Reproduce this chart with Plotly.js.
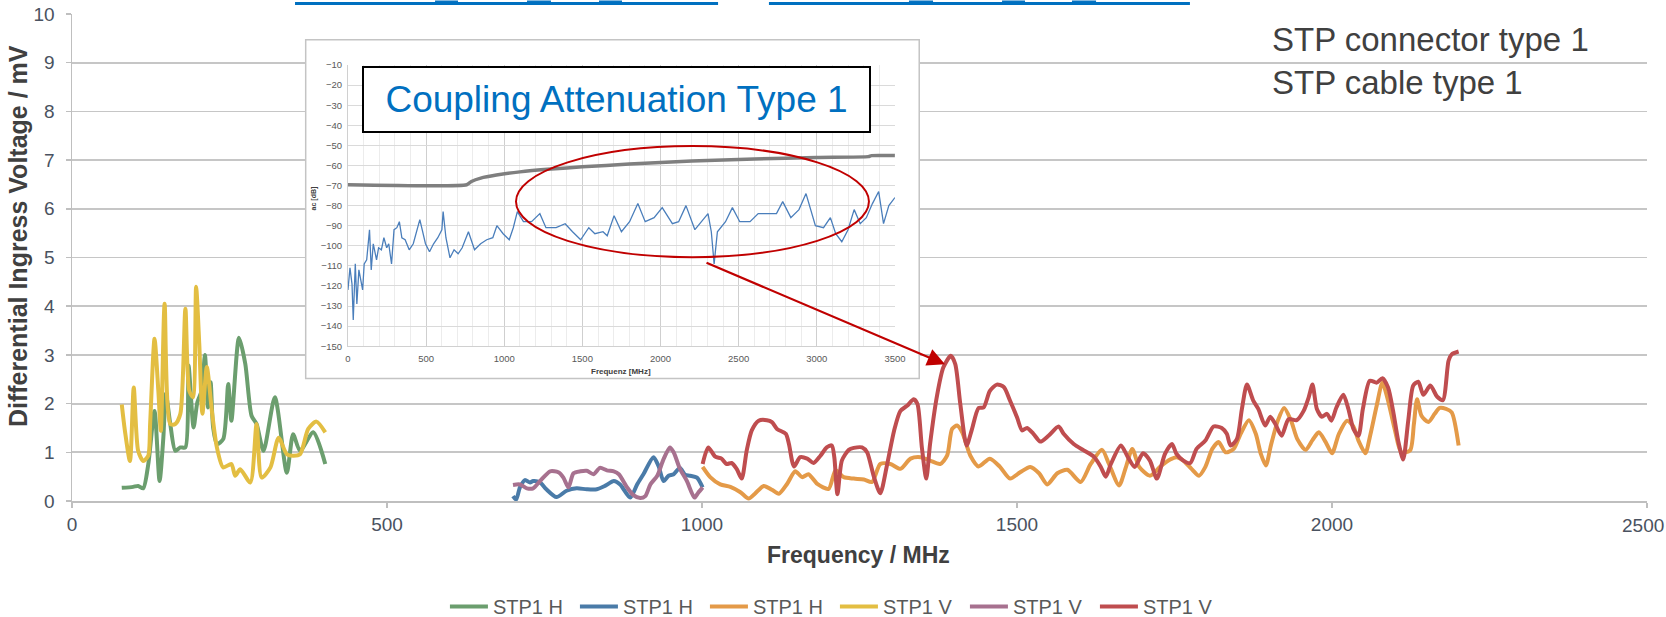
<!DOCTYPE html>
<html>
<head>
<meta charset="utf-8">
<script src="https://cdn.plot.ly/plotly-3.0.1.min.js"></script>
<style>html,body{margin:0;padding:0;background:#fff;}#chart{width:1666px;height:617px;}</style>
</head>
<body>
<div id="chart"></div>
<script>
// ---- main chart data (Frequency MHz / Differential Ingress Voltage mV) ----
const seriesNames = ['STP1 H', 'STP1 H', 'STP1 H', 'STP1 V', 'STP1 V', 'STP1 V'];

const hGreenMHz = [79,97,105,113,121,131,139,145,149,156,164,172,180,185,193,199,206,211,216,220,224,230,240,248,253,265,275,285,293,304,322,341,351,362,383,402];
const hGreenMV  = [0.27,0.29,0.31,0.26,0.75,1.85,0.41,1.3,2.2,1.58,1.03,1.1,1.1,2.78,1.51,2.03,2.27,3.0,1.92,2.44,1.51,1.17,1.27,2.4,1.65,3.35,2.82,1.75,1.58,1.03,2.13,0.58,1.37,1.03,1.41,0.76];

const hBlueMHz = [700,705,711,719,727,732,743,753,769,785,801,817,833,846,860,870,886,897,907,923,931,939,947,955,965,973,981,992,1001];
const hBlueMV  = [0.1,0.03,0.28,0.43,0.38,0.41,0.38,0.24,0.08,0.21,0.26,0.24,0.24,0.31,0.41,0.34,0.07,0.34,0.55,0.9,0.72,0.41,0.52,0.55,0.68,0.54,0.52,0.48,0.28];

const hOrangeMHz = [1001,1013,1029,1045,1061,1074,1084,1098,1111,1122,1135,1148,1159,1169,1183,1201,1212,1225,1241,1257,1270,1283,1299,1315,1331,1347,1362,1378,1389,1397,1405,1413,1426,1439,1457,1473,1489,1505,1521,1535,1548,1564,1580,1601,1617,1635,1646,1662,1673,1683,1694,1711,1727,1743,1753,1764,1777,1789,1799,1810,1820,1831,1844,1855,1868,1879,1887,1895,1903,1914,1924,1935,1945,1958,1969,1979,1990,2000,2011,2024,2034,2042,2053,2060,2071,2080,2089,2100,2110,2124,2130,2135,2142,2153,2163,2171,2181,2190,2201];
const hOrangeMV  = [0.7,0.49,0.34,0.29,0.18,0.05,0.15,0.31,0.23,0.15,0.35,0.61,0.49,0.55,0.35,0.25,0.63,0.49,0.46,0.44,0.39,0.76,0.76,0.66,0.87,0.9,0.83,0.76,0.93,1.48,1.55,1.41,0.93,0.71,0.87,0.7,0.46,0.59,0.7,0.57,0.34,0.57,0.64,0.39,0.76,1.05,0.76,0.32,0.7,1.07,0.7,0.52,0.7,0.85,0.9,0.83,0.66,0.52,0.7,1.07,1.21,1.0,1.07,1.38,1.66,1.38,0.97,0.73,1.14,1.65,1.91,1.65,1.27,1.05,1.25,1.41,1.21,0.98,1.38,1.65,1.53,1.24,0.98,1.31,1.96,2.43,2.06,1.45,1.0,1.04,1.58,2.09,1.75,1.62,1.79,1.91,1.89,1.82,1.14];

const vYellowMHz = [79,84,92,98,105,113,121,124,131,137,141,147,156,164,172,180,186,192,197,202,207,214,222,230,240,253,259,267,283,293,301,315,328,341,351,362,375,388,402];
const vYellowMV  = [1.98,1.44,0.82,2.33,1.03,0.82,0.93,1.58,3.33,2.27,1.44,4.05,1.58,1.58,1.79,3.95,2.27,2.13,4.4,3.23,1.79,2.75,1.85,1.1,0.69,0.76,0.52,0.65,0.38,1.58,0.48,0.69,1.3,0.96,0.93,0.96,1.48,1.63,1.41];

const vMauveMHz = [700,711,722,732,743,759,772,780,788,796,807,817,828,838,849,860,868,881,891,902,910,918,929,939,949,955,965,976,988,994,1001];
const vMauveMV  = [0.33,0.34,0.26,0.26,0.41,0.61,0.59,0.48,0.28,0.57,0.61,0.62,0.55,0.68,0.63,0.61,0.55,0.28,0.12,0.06,0.1,0.34,0.52,0.86,1.1,1.0,0.66,0.41,0.07,0.17,0.28];

const vRedMHz = [1001,1010,1021,1031,1039,1047,1055,1063,1071,1079,1090,1103,1111,1119,1133,1138,1146,1156,1167,1177,1188,1198,1206,1210,1215,1222,1233,1241,1254,1262,1273,1283,1294,1305,1315,1326,1336,1342,1349,1356,1362,1373,1383,1395,1402,1410,1420,1428,1439,1447,1457,1468,1479,1489,1500,1508,1516,1526,1537,1550,1566,1574,1590,1606,1622,1633,1641,1649,1665,1676,1687,1700,1711,1722,1735,1746,1753,1764,1775,1785,1799,1812,1825,1833,1839,1849,1857,1865,1875,1883,1894,1902,1910,1920,1931,1944,1955,1963,1969,1976,1984,1992,1999,2007,2018,2026,2034,2042,2049,2060,2071,2080,2089,2097,2105,2113,2121,2129,2137,2145,2156,2167,2176,2185,2190,2201];
const vRedMV  = [0.76,1.1,0.91,0.87,0.76,0.78,0.66,0.46,1.04,1.45,1.65,1.66,1.62,1.48,1.38,1.17,0.71,0.9,0.87,0.78,0.93,1.1,1.14,0.9,0.14,0.83,1.05,1.09,1.1,1.0,0.49,0.16,0.76,1.45,1.85,1.96,2.09,1.99,1.1,0.46,1.17,2.16,2.74,2.98,2.81,1.99,1.14,1.45,1.91,1.92,2.26,2.39,2.34,2.06,1.72,1.45,1.5,1.38,1.22,1.34,1.53,1.38,1.17,1.04,0.91,0.7,0.5,0.76,1.14,0.9,0.7,0.98,0.83,0.46,0.97,1.17,0.97,0.83,0.78,1.07,1.24,1.53,1.5,1.38,1.14,1.27,1.89,2.39,2.06,1.89,1.55,1.73,1.58,1.34,1.68,1.66,1.85,2.13,2.39,1.89,1.73,1.79,1.65,1.92,2.18,1.89,1.48,1.34,1.89,2.47,2.43,2.52,2.33,1.85,1.24,0.85,1.65,2.37,2.45,2.18,2.37,2.14,2.07,2.88,3.01,3.07];

// ---- inset data: Coupling Attenuation Type 1 (ac dB vs Frequenz MHz) ----
const insetFreqMHz = [0,13,26,34,47,57,70,84,94,104,120,138,149,162,183,196,214,230,248,261,279,295,313,329,345,366,392,418,444,460,475,496,522,548,575,601,609,627,653,679,705,731,771,810,849,888,927,953,993,1032,1058,1084,1123,1175,1228,1267,1332,1390,1437,1489,1541,1580,1632,1659,1703,1750,1802,1855,1902,1959,2011,2076,2116,2163,2220,2259,2304,2325,2343,2364,2416,2460,2507,2573,2625,2703,2742,2782,2834,2886,2931,2991,3043,3087,3121,3160,3200,3239,3278,3317,3356,3396,3427,3461,3500];
const insetCouplingDb = [-122,-111,-119,-137,-109,-129,-112,-119,-122,-109,-107,-92,-112,-99,-107,-101,-102,-96,-101,-99,-109,-92,-91,-88,-96,-97,-102,-99,-92,-87,-92,-99,-103,-99,-96,-92,-83,-96,-106,-102,-104,-101,-93,-102,-99,-97,-96,-90,-94,-97,-91,-83,-88,-88,-84,-91,-91,-89,-93,-97,-91,-94,-93,-95,-85,-93,-88,-79,-88,-86,-81,-89,-88,-80,-92,-88,-84,-93,-109,-93,-88,-81,-88,-88,-84,-84,-84,-78,-86,-82,-74,-90,-91,-86,-94,-98,-92,-82,-89,-86,-79,-73,-89,-80,-76];
const limitFreqMHz = [0,760,790,850,950,1100,1300,1500,1800,2200,2600,3000,3330,3350,3500];
const limitDb = [-69.6,-69.6,-68,-66.3,-64.8,-63.2,-61.8,-60.7,-59.3,-57.8,-56.8,-56,-55.6,-55.1,-55.1];

// ---- tick labels ----
const xTickLabels = ['0','500','1000','1500','2000','2500'];
const xTickValues = [0,500,1000,1500,2000,2500];
const insetXTicks = [0,500,1000,1500,2000,2500,3000,3500];

const colors = ['#6B9E6E', '#4A7BA8', '#E49A48', '#E3BE42', '#A7718F', '#BF4D4F'];
const seriesX = [hGreenMHz, hBlueMHz, hOrangeMHz, vYellowMHz, vMauveMHz, vRedMHz];
const seriesY = [hGreenMV, hBlueMV, hOrangeMV, vYellowMV, vMauveMV, vRedMV];

const traces = [];
for (let i = 0; i < 6; i++) {
  traces.push({
    type: 'scatter', mode: 'lines', name: seriesNames[i],
    x: seriesX[i], y: seriesY[i], xaxis: 'x', yaxis: 'y',
    line: {color: colors[i], width: 4, shape: 'spline', smoothing: 0.7},
    hoverinfo: 'x+y'
  });
}
// empty trace to establish the inset frame subplot
traces.push({type: 'scatter', x: [], y: [], xaxis: 'x2', yaxis: 'y2', showlegend: false, hoverinfo: 'skip'});
traces.push({
  type: 'scatter', mode: 'lines', x: limitFreqMHz, y: limitDb, xaxis: 'x3', yaxis: 'y3',
  showlegend: false, line: {color: '#7F7F7F', width: 3.5, shape: 'spline', smoothing: 0.5}, hoverinfo: 'skip'
});
traces.push({
  type: 'scatter', mode: 'lines', x: insetFreqMHz, y: insetCouplingDb, xaxis: 'x3', yaxis: 'y3',
  showlegend: false, line: {color: '#4A7EBB', width: 1.3}, hoverinfo: 'skip'
});

const FONT = 'Liberation Sans, Arial, sans-serif';
const lastIdx = xTickLabels.length - 1;
// the last label sits at the right edge of the page; it is drawn as a right-aligned text so it stays whole
const xTickTextShown = xTickLabels.map((t, i) => (i === lastIdx ? '' : t));

const layout = {
  width: 1666, height: 617,
  margin: {l: 72, r: 19, t: 14, b: 116, autoexpand: false},
  paper_bgcolor: '#ffffff', plot_bgcolor: 'rgba(0,0,0,0)',
  font: {family: FONT, color: '#595959'},
  showlegend: true,
  legend: {
    orientation: 'h', x: 0.4844, xanchor: 'center', y: -0.2164, yanchor: 'middle',
    font: {family: FONT, size: 20, color: '#595959'},
    itemwidth: 38, entrywidthmode: 'pixels', entrywidth: 77,
    bgcolor: 'rgba(0,0,0,0)'
  },
  xaxis: {
    domain: [0, 1], anchor: 'y', range: [0, 2500], tickvals: xTickValues, ticktext: xTickTextShown,
    showgrid: false, zeroline: false, showline: true, linecolor: '#BFBFBF', linewidth: 2,
    ticks: 'outside', ticklen: 5, tickcolor: '#BFBFBF', tickwidth: 1.5,
    tickfont: {family: FONT, size: 19, color: '#4A5260'}, ticklabelstandoff: 0, fixedrange: true
  },
  yaxis: {
    domain: [0, 1], anchor: 'x', range: [0, 10], dtick: 1, tick0: 0,
    showgrid: true, gridcolor: '#C6C6C6', gridwidth: 1.8, zeroline: false,
    showline: true, linecolor: '#BFBFBF', linewidth: 1.5,
    ticks: 'outside', ticklen: 5, tickcolor: '#BFBFBF', tickwidth: 1.5,
    tickfont: {family: FONT, size: 19, color: '#4A5260'}, ticklabelstandoff: 7, fixedrange: true
  },
  xaxis2: {domain: [0.1479, 0.5384], anchor: 'y2', range: [0, 1], visible: false, fixedrange: true},
  yaxis2: {domain: [0.2500, 0.9486], anchor: 'x2', range: [0, 1], visible: false, fixedrange: true},
  xaxis3: {
    domain: [0.1752, 0.5225], anchor: 'y3', range: [0, 3500], tickvals: insetXTicks,
    showgrid: true, gridcolor: '#CFCFCF', gridwidth: 1, zeroline: false,
    minor: {dtick: 100, tick0: 0, showgrid: true, gridcolor: '#ECECEC', gridwidth: 1},
    showline: true, linecolor: '#D0D0D0', linewidth: 1, ticks: '',
    tickfont: {family: FONT, size: 9.5, color: '#595959'}, ticklabelstandoff: 3, fixedrange: true
  },
  yaxis3: {
    domain: [0.3179, 0.8952], anchor: 'x3', range: [-150, -10], dtick: 10, tick0: -150,
    showgrid: true, gridcolor: '#DADADA', gridwidth: 1, zeroline: false,
    showline: true, linecolor: '#D0D0D0', linewidth: 1, ticks: '',
    tickfont: {family: FONT, size: 9.5, color: '#595959'}, ticklabelstandoff: 3, fixedrange: true
  },
  shapes: [
    {type: 'rect', xref: 'x2', yref: 'y2', x0: 0, x1: 1, y0: 0, y1: 1, layer: 'below',
     fillcolor: '#ffffff', line: {color: '#C4C4C4', width: 3}},
    {type: 'circle', xref: 'paper', yref: 'paper', x0: 0.2819, x1: 0.5060, y0: 0.5007, y1: 0.7288,
     layer: 'above', line: {color: '#C00000', width: 2}},
    {type: 'rect', xref: 'paper', yref: 'paper', x0: 0.1416, x1: 0.4102, y0: 1.0185, y1: 1.0247, line: {width: 0}, fillcolor: '#0070C0'},
    {type: 'rect', xref: 'paper', yref: 'paper', x0: 0.4425, x1: 0.7098, y0: 1.0185, y1: 1.0247, line: {width: 0}, fillcolor: '#0070C0'},
    {type: 'rect', xref: 'paper', yref: 'paper', x0: 0.2305, x1: 0.2451, y0: 1.0247, y1: 1.0277, line: {width: 0}, fillcolor: '#0070C0'},
    {type: 'rect', xref: 'paper', yref: 'paper', x0: 0.2889, x1: 0.3041, y0: 1.0247, y1: 1.0277, line: {width: 0}, fillcolor: '#0070C0'},
    {type: 'rect', xref: 'paper', yref: 'paper', x0: 0.3346, x1: 0.3492, y0: 1.0247, y1: 1.0277, line: {width: 0}, fillcolor: '#0070C0'},
    {type: 'rect', xref: 'paper', yref: 'paper', x0: 0.5314, x1: 0.5467, y0: 1.0247, y1: 1.0277, line: {width: 0}, fillcolor: '#0070C0'},
    {type: 'rect', xref: 'paper', yref: 'paper', x0: 0.5905, x1: 0.6051, y0: 1.0247, y1: 1.0277, line: {width: 0}, fillcolor: '#0070C0'},
    {type: 'rect', xref: 'paper', yref: 'paper', x0: 0.6349, x1: 0.6502, y0: 1.0247, y1: 1.0277, line: {width: 0}, fillcolor: '#0070C0'}
  ],
  annotations: [
    {text: xTickLabels[lastIdx], xref: 'paper', yref: 'paper', x: 1.0118, y: -0.0503,
     xanchor: 'right', yanchor: 'middle', showarrow: false,
     font: {family: FONT, size: 19, color: '#4A5260'}},
    {text: '<b>Differential Ingress Voltage / mV</b>', xref: 'paper', yref: 'paper', x: -0.0343, y: 0.5439,
     xanchor: 'center', yanchor: 'middle', textangle: -90, showarrow: false,
     font: {family: FONT, size: 25, color: '#404040'}},
    {text: '<b>Frequency / MHz</b>', xref: 'paper', yref: 'paper', x: 0.4994, y: -0.1116,
     xanchor: 'center', yanchor: 'middle', showarrow: false,
     font: {family: FONT, size: 23, color: '#404040'}},
    {text: 'STP connector type 1', xref: 'paper', yref: 'paper', x: 0.7606, y: 0.9486,
     xanchor: 'left', yanchor: 'middle', showarrow: false, font: {family: FONT, size: 33, color: '#404040'}},
    {text: 'STP cable type 1', xref: 'paper', yref: 'paper', x: 0.7606, y: 0.8603,
     xanchor: 'left', yanchor: 'middle', showarrow: false, font: {family: FONT, size: 33, color: '#404040'}},
    {text: 'Coupling Attenuation Type 1', xref: 'paper', yref: 'paper', x: 0.3457, y: 0.8243,
     xanchor: 'center', yanchor: 'middle', showarrow: false, width: 505, height: 63,
     bgcolor: '#ffffff', bordercolor: '#000000', borderwidth: 2, borderpad: 0,
     font: {family: FONT, size: 37, color: '#0070C0'}},
    {text: '<b>Frequenz [MHz]</b>', xref: 'paper', yref: 'paper', x: 0.3486, y: 0.2665,
     xanchor: 'center', yanchor: 'middle', showarrow: false, font: {family: FONT, size: 8, color: '#404040'}},
    {text: '<b>ac [dB]</b>', xref: 'paper', yref: 'paper', x: 0.1537, y: 0.6215, textangle: -90,
     xanchor: 'center', yanchor: 'middle', showarrow: false, font: {family: FONT, size: 7, color: '#404040'}},
    {text: '', xref: 'paper', yref: 'paper', x: 0.5543, y: 0.2809, ax: -240, ay: -102,
     showarrow: true, arrowhead: 2, arrowsize: 1.6, arrowwidth: 2.2, arrowcolor: '#C00000'}
  ]
};

Plotly.newPlot('chart', traces, layout, {displayModeBar: false, staticPlot: true});
</script>
</body>
</html>
